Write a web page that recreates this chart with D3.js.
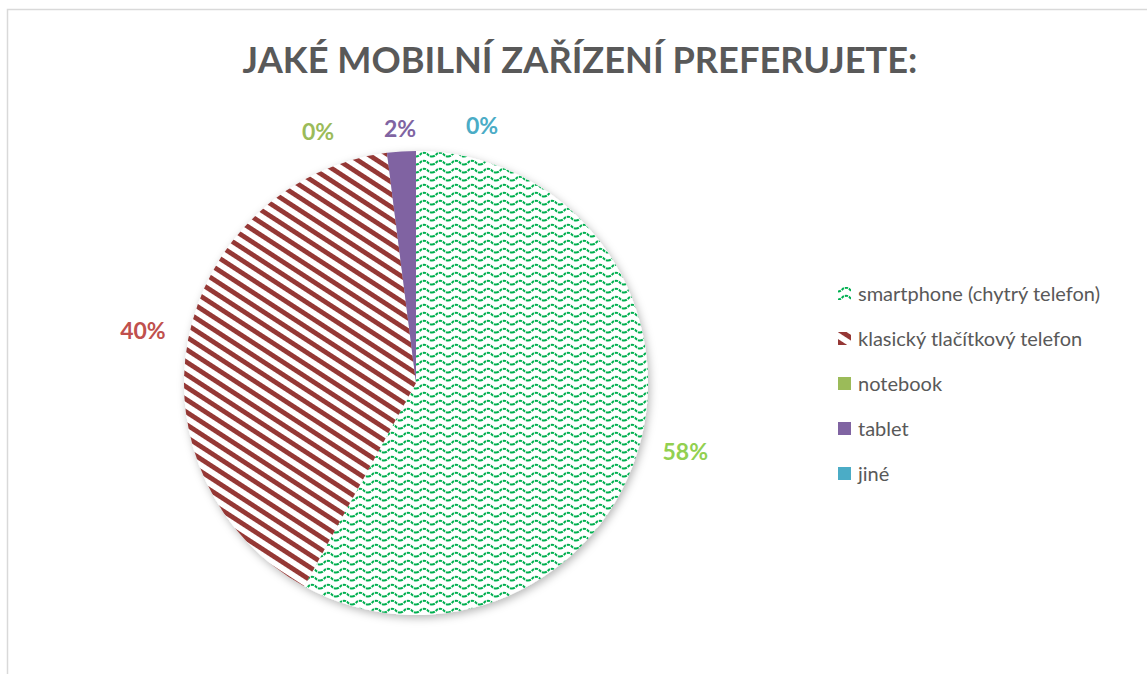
<!DOCTYPE html>
<html>
<head>
<meta charset="utf-8">
<script src="https://cdn.jsdelivr.net/npm/d3@7"></script>
<style>
  body { margin: 0; background: #fff; }
  text { font-family: Lato, "Open Sans", sans-serif; }
</style>
</head>
<body>
<div id="chart"></div>
<script>
// data
const categories = ["smartphone (chytrý telefon)", "klasický tlačítkový telefon", "notebook", "tablet", "jiné"];
const shares = [58, 40, 0, 2, 0];
const sliceColors = ["#00B050", "#953735", "#9BBB59", "#8064A2", "#4BACC6"];
const labelColors = ["#92D050", "#C0504D", "#9BBB59", "#8064A2", "#4BACC6"];
const title = "JAKÉ MOBILNÍ ZAŘÍZENÍ PREFERUJETE:";

const width = 1147, height = 674;
const cx = 416, cy = 383, radius = 232;

const svg = d3.select("#chart").append("svg")
    .attr("width", width)
    .attr("height", height);

const defs = svg.append("defs");

// wave pattern for smartphone
const wave = defs.append("pattern")
    .attr("id", "wave")
    .attr("patternUnits", "userSpaceOnUse")
    .attr("width", 16).attr("height", 8);
wave.append("rect").attr("width", 16).attr("height", 8).attr("fill", "#fff");
wave.append("path")
    .attr("d", "M0,5.5 C4,5.5 4,1.8 8,1.8 C12,1.8 12,5.5 16,5.5")
    .attr("fill", "none")
    .attr("stroke", sliceColors[0])
    .attr("stroke-width", 2)
    .attr("stroke-dasharray", "3,1");

// diagonal stripes for klasický
const stripes = defs.append("pattern")
    .attr("id", "stripes")
    .attr("patternUnits", "userSpaceOnUse")
    .attr("width", 10.5).attr("height", 10.5)
    .attr("patternTransform", "rotate(33)");
stripes.append("rect").attr("width", 10.5).attr("height", 10.5).attr("fill", "#fff");
stripes.append("rect").attr("x", 0).attr("y", 0).attr("width", 10.5).attr("height", 4.8)
    .attr("fill", sliceColors[1]);

const shadow = defs.append("filter").attr("id", "shadow")
    .attr("x", "-20%").attr("y", "-20%").attr("width", "140%").attr("height", "140%");
shadow.append("feDropShadow")
    .attr("dx", 2).attr("dy", 3).attr("stdDeviation", 4)
    .attr("flood-color", "#000").attr("flood-opacity", 0.28);

const fills = ["url(#wave)", "url(#stripes)", sliceColors[2], sliceColors[3], sliceColors[4]];

// chart border
svg.append("rect")
    .attr("x", 7.5).attr("y", 9.5)
    .attr("width", width + 20).attr("height", height + 20)
    .attr("fill", "none").attr("stroke", "#D9D9D9").attr("stroke-width", 1.5);

// title
const titleText = svg.append("text")
    .attr("x", 580).attr("y", 73)
    .attr("text-anchor", "middle")
    .attr("fill", "#595959")
    .style("font-weight", "bold")
    .style("font-size", "36px")
    .text(title);
const tw = titleText.node().getComputedTextLength();
titleText.style("font-size", (36 * 675 / tw) + "px");

// pie
const pie = d3.pie().sort(null).value(d => d);
const arcs = pie(shares);
const arc = d3.arc().innerRadius(0).outerRadius(radius);

const g = svg.append("g").attr("transform", `translate(${cx},${cy})`);
g.append("g").attr("filter", "url(#shadow)")
  .selectAll("path")
  .data(arcs)
  .join("path")
    .attr("d", arc)
    .attr("fill", (d, i) => fills[i]);

// data labels
const bigArc = d3.arc().innerRadius(278).outerRadius(278);
const smallArc = d3.arc().innerRadius(255).outerRadius(255);
const labels = arcs.map((d, i) => {
  const small = (d.endAngle - d.startAngle) < 0.3;
  const [x, y] = (small ? smallArc : bigArc).centroid(d);
  return { x, y, small, i, text: Math.round(d.value) + "%" };
});
// spread the crowded small labels apart around the middle one
const crowded = labels.filter(l => l.small);
const mid = crowded[Math.floor(crowded.length / 2)];
crowded.forEach((l, k) => {
  const idx = k - Math.floor(crowded.length / 2);
  l.x = mid.x + idx * 82;
  l.y = l.y - idx * 2;
});

g.selectAll("text.lbl")
  .data(labels)
  .join("text")
    .attr("class", "lbl")
    .attr("x", d => d.x)
    .attr("y", d => d.y)
    .attr("dy", "0.35em")
    .attr("text-anchor", "middle")
    .attr("fill", d => labelColors[d.i])
    .style("font-weight", "bold")
    .style("font-size", "23px")
    .text(d => d.text);

// legend
const legendY = d3.scalePoint().domain(categories).range([294, 474]);
const legend = svg.append("g")
  .selectAll("g")
  .data(categories)
  .join("g")
    .attr("transform", d => `translate(838,${legendY(d)})`);
legend.append("rect")
    .attr("x", 0).attr("y", -7)
    .attr("width", 13).attr("height", 13)
    .attr("fill", (d, i) => fills[i]);
legend.append("text")
    .attr("x", 20).attr("y", 0)
    .attr("dy", "0.35em")
    .attr("fill", "#595959")
    .style("font-size", "20px")
    .text(d => d);
</script>
</body>
</html>
